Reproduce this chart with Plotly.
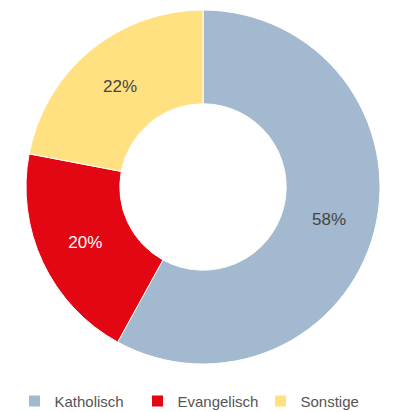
import plotly.graph_objects as go

labels = ["Katholisch", "Evangelisch", "Sonstige"]
values = [58, 20, 22]
colors = ["#A3B9CF", "#E30613", "#FFE182"]
text_colors = ["#444444", "#FFFFFF", "#444444"]

W, H = 398, 412

fig = go.Figure(go.Pie(
    labels=labels,
    values=values,
    hole=0.47,
    sort=False,
    direction="clockwise",
    rotation=0,
    domain=dict(x=[26 / W, 380 / W], y=[48 / H, 402 / H]),
    marker=dict(colors=colors, line=dict(color="#FFFFFF", width=1)),
    texttemplate="%{value}%",
    textposition="inside",
    insidetextorientation="horizontal",
    textfont=dict(size=17, color=text_colors, family="Liberation Sans, Arial, sans-serif"),
    hoverinfo="label+percent",
))

fig.update_layout(
    width=W, height=H,
    margin=dict(l=0, r=0, t=0, b=0, autoexpand=False),
    paper_bgcolor="white",
    plot_bgcolor="white",
    showlegend=True,
    legend=dict(
        orientation="h",
        x=0.5, xanchor="center",
        y=-0.014, yanchor="bottom",
        font=dict(size=15, color="#555555", family="Liberation Sans, Arial, sans-serif"),
        traceorder="normal",
        entrywidth=78,
        entrywidthmode="pixels",
    ),
)

fig.write_html("out.html")
